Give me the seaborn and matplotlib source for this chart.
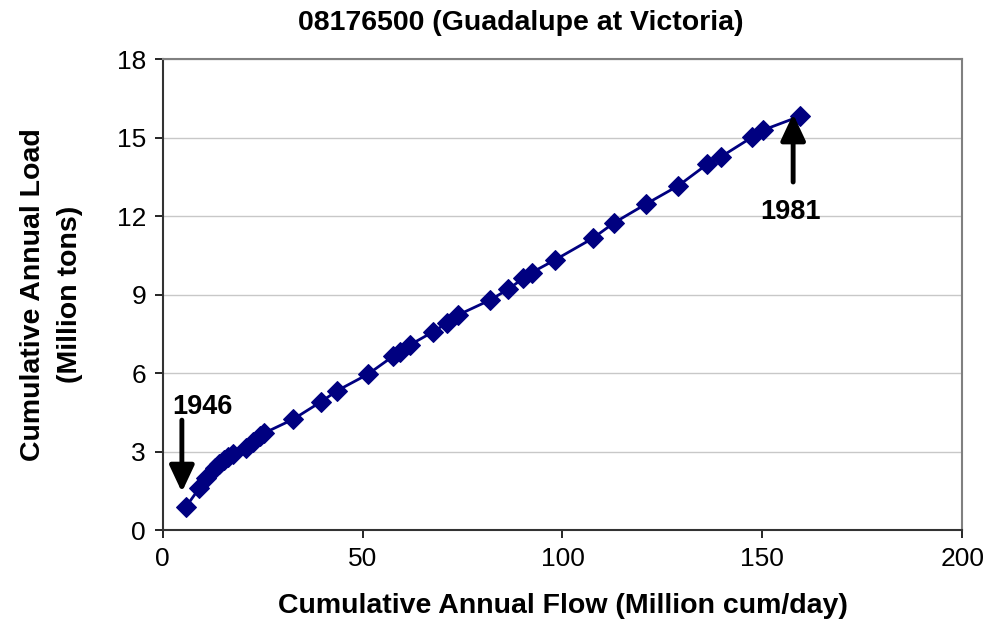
import matplotlib
matplotlib.use("Agg")
import matplotlib.pyplot as plt
import pandas as pd
import seaborn as sns

# cumulative annual flow (million cum/day) and load (million tons), 1946-1981
cum_flow = [5.8, 9.1, 10.9, 13.0, 14.1, 15.3, 16.4, 17.5, 20.8, 22.6, 24.3, 25.3,
            32.6, 39.6, 43.7, 51.4, 57.7, 59.3, 61.8, 67.7, 71.0, 73.9, 81.9,
            86.4, 90.2, 92.3, 98.1, 107.6, 112.9, 120.8, 129.0, 136.2, 139.6,
            147.4, 150.1, 159.5]
cum_load = [0.88, 1.59, 1.97, 2.37, 2.52, 2.66, 2.79, 2.92, 3.12, 3.37, 3.59, 3.70,
            4.23, 4.90, 5.33, 5.96, 6.65, 6.81, 7.07, 7.58, 7.90, 8.22, 8.79,
            9.20, 9.62, 9.84, 10.32, 11.15, 11.74, 12.45, 13.16, 13.98, 14.26,
            15.01, 15.28, 15.82]
years = list(range(1946, 1946 + len(cum_flow)))
y_ticks = [0, 3, 6, 9, 12, 15, 18]
x_ticks = [0, 50, 100, 150, 200]

df = pd.DataFrame({"year": years, "flow": cum_flow, "load": cum_load})

sns.set_style("white")
plt.rcParams["font.family"] = ["Liberation Sans", "DejaVu Sans"]
plt.rcParams["text.color"] = "black"
plt.rcParams["axes.labelcolor"] = "black"

fig = plt.figure(figsize=(9.92, 6.28), dpi=100)
ax = fig.add_axes([0.164, 0.156, 0.806, 0.750])

navy = "#000080"
sns.lineplot(data=df, x="flow", y="load", sort=False, color=navy, linewidth=2,
             marker="D", markersize=10.5, markeredgecolor=navy, ax=ax)

ax.set_xlim(0, 200)
ax.set_ylim(0, 18)
ax.set_xticks(x_ticks)
ax.set_yticks(y_ticks)
ax.tick_params(axis="both", labelsize=19, length=6, width=1.2, direction="out",
               bottom=True, left=True, colors="black", pad=6)
ax.yaxis.grid(True, color="#c8c8c8", linewidth=1)
ax.xaxis.grid(False)

for side in ["top", "right"]:
    ax.spines[side].set_color("#808080")
    ax.spines[side].set_linewidth(1.5)
for side in ["left", "bottom"]:
    ax.spines[side].set_color("#333333")
    ax.spines[side].set_linewidth(1.5)

# chart title is centred on the chart area, not on the plot area
fig.text(0.525, 0.963, "08176500 (Guadalupe at Victoria)", fontsize=20.5,
         fontweight="bold", ha="center", va="center")
ax.set_xlabel("Cumulative Annual Flow (Million cum/day)", fontsize=20.5,
              fontweight="bold", labelpad=16)
ax.set_ylabel("Cumulative Annual Load\n(Million tons)", fontsize=20.5,
              fontweight="bold", labelpad=24, linespacing=1.55)

arrow = dict(arrowstyle="-|>,head_width=0.75,head_length=1.6", color="black", lw=3.5,
             shrinkA=0, shrinkB=0)
ax.annotate("", xy=(4.8, 1.45), xytext=(4.8, 4.2), arrowprops=arrow)
ax.text(10.0, 4.7, str(years[0]), fontsize=19.5, fontweight="bold", ha="center", va="center")
ax.annotate("", xy=(157.7, 15.9), xytext=(157.7, 13.3), arrowprops=arrow)
ax.text(157.0, 12.15, str(years[-1]), fontsize=19.5, fontweight="bold", ha="center", va="center")

fig.savefig("out.png", dpi=100)
